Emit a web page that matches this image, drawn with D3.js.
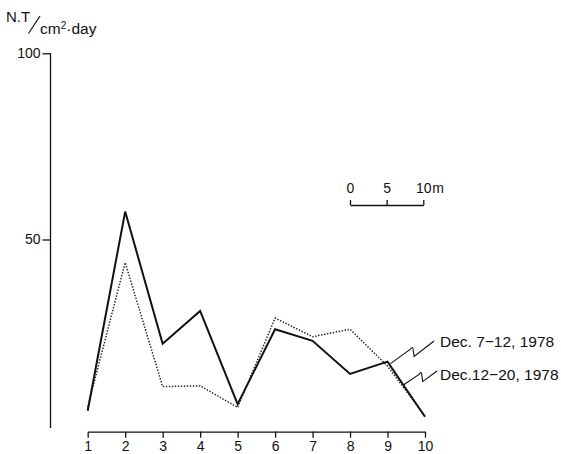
<!DOCTYPE html>
<html>
<head>
<meta charset="utf-8">
<script src="https://cdn.jsdelivr.net/npm/d3@7"></script>
<style>
  html, body { margin: 0; padding: 0; background: #fff; }
  svg { display: block; font-family: "Liberation Sans", Arial, sans-serif; }
</style>
</head>
<body>
<svg id="chart" width="561" height="454"></svg>
<script>
// Sampling stations along the transect
const stations = [1, 2, 3, 4, 5, 6, 7, 8, 9, 10];
// Deposition (N.T per cm² per day)
const dec7to12 = [4, 57.5, 22, 30.8, 5.8, 25.9, 22.8, 13.9, 17.2, 2.4];
const dec12to20 = [5, 43.8, 10.5, 10.7, 4.9, 28.9, 23.9, 25.9, 16, 2.6];
const seriesNames = ["Dec. 7\u221212, 1978", "Dec.12\u221220, 1978"];
const yTicks = [50, 100];
const scaleBarTicks = [0, 5, 10];

const svg = d3.select("#chart");
const ink = "#111";
const font = "Liberation Sans, Arial, sans-serif";

const x = d3.scaleLinear().domain([1, 10]).range([87.7, 425]);
const y = d3.scaleLinear().domain([0, 100]).range([425.7, 53.3]);

// Y axis: plain vertical rule with two labelled ticks
svg.append("line")
  .attr("x1", 50.5).attr("x2", 50.5)
  .attr("y1", y(100)).attr("y2", y(-0.6))
  .attr("stroke", ink).attr("stroke-width", 1.3);

const yAxis = svg.append("g")
  .attr("transform", "translate(50.5,0)")
  .call(d3.axisLeft(y).tickValues(yTicks).tickSize(8).tickPadding(2).tickFormat(d3.format("d")));
yAxis.select(".domain").remove();
yAxis.selectAll(".tick line").attr("stroke", ink).attr("stroke-width", 1.3);
yAxis.selectAll(".tick text").attr("font-size", 14).attr("fill", ink).attr("font-family", font);

// X axis, set slightly below the y axis end
const xAxis = svg.append("g")
  .attr("transform", "translate(0,431.7)")
  .call(d3.axisBottom(x).tickValues(stations).tickSize(6).tickSizeOuter(0).tickPadding(3).tickFormat(d3.format("d")));
xAxis.select(".domain").attr("stroke", ink).attr("stroke-width", 1.3);
xAxis.selectAll(".tick line").attr("stroke", ink).attr("stroke-width", 1.3);
xAxis.selectAll(".tick text").attr("font-size", 14).attr("fill", ink).attr("font-family", font);

// Unit label
const unit = svg.append("g").attr("fill", ink);
unit.append("text").attr("x", 6).attr("y", 22).attr("font-size", 15).text("N.T");
unit.append("line").attr("x1", 28.5).attr("y1", 33.5).attr("x2", 40).attr("y2", 16)
  .attr("stroke", ink).attr("stroke-width", 1.2);
unit.append("text").attr("x", 40).attr("y", 34).attr("font-size", 15.5)
  .html('cm<tspan font-size="10" dy="-5">2</tspan><tspan dy="5">\u00b7day</tspan>');

// Series lines
const line = d3.line().x((d, i) => x(stations[i])).y(d => y(d));
svg.append("path").datum(dec12to20)
  .attr("d", line).attr("fill", "none")
  .attr("stroke", "#222").attr("stroke-width", 1.5)
  .attr("stroke-dasharray", "1.4 1.6");
svg.append("path").datum(dec7to12)
  .attr("d", line).attr("fill", "none")
  .attr("stroke", ink).attr("stroke-width", 2).attr("stroke-linejoin", "miter");

// Zig-zag leaders from the lines to their labels
function leader(x0, y0, x1, y1) {
  const mx = x0 + (x1 - x0) * 0.45, my = y0 + (y1 - y0) * 0.45;
  return `M${x0},${y0} L${mx},${my - 4} Q${mx + 3},${my - 8} ${mx + 3},${my - 4} L${mx + 4},${my + 3} L${x1},${y1}`;
}
const lead1 = [x(9) + 3, y(dec7to12[8]) + 2];
const lead2 = [x(9) + 0.5 + (x(10) - x(9)) * 0.42, y(dec7to12[8] + (dec7to12[9] - dec7to12[8]) * 0.42)];
svg.append("path").attr("d", leader(lead1[0], lead1[1], 434, 341))
  .attr("fill", "none").attr("stroke", ink).attr("stroke-width", 1.1);
svg.append("path").attr("d", leader(lead2[0], lead2[1], 437, 371))
  .attr("fill", "none").attr("stroke", ink).attr("stroke-width", 1.1);

svg.append("text").attr("x", 440).attr("y", 347).attr("font-size", 15.5).attr("fill", ink).text(seriesNames[0]);
svg.append("text").attr("x", 440).attr("y", 380).attr("font-size", 15.5).attr("fill", ink).text(seriesNames[1]);

// Distance scale bar
const sb = d3.scaleLinear().domain([0, 10]).range([350, 423.3]);
const sbAxis = svg.append("g").attr("transform", "translate(0,205)")
  .call(d3.axisTop(sb).tickValues(scaleBarTicks).tickSize(5).tickSizeOuter(0).tickPadding(7).tickFormat(d3.format("d")));
sbAxis.select(".domain").attr("stroke", ink).attr("stroke-width", 1.3);
sbAxis.selectAll(".tick line").attr("stroke", ink).attr("stroke-width", 1.3);
sbAxis.selectAll(".tick text").attr("font-size", 14).attr("fill", ink).attr("font-family", font);
svg.append("text").attr("x", sb(10) + 9).attr("y", 193).attr("font-size", 14).attr("fill", ink).text("m");
</script>
</body>
</html>
